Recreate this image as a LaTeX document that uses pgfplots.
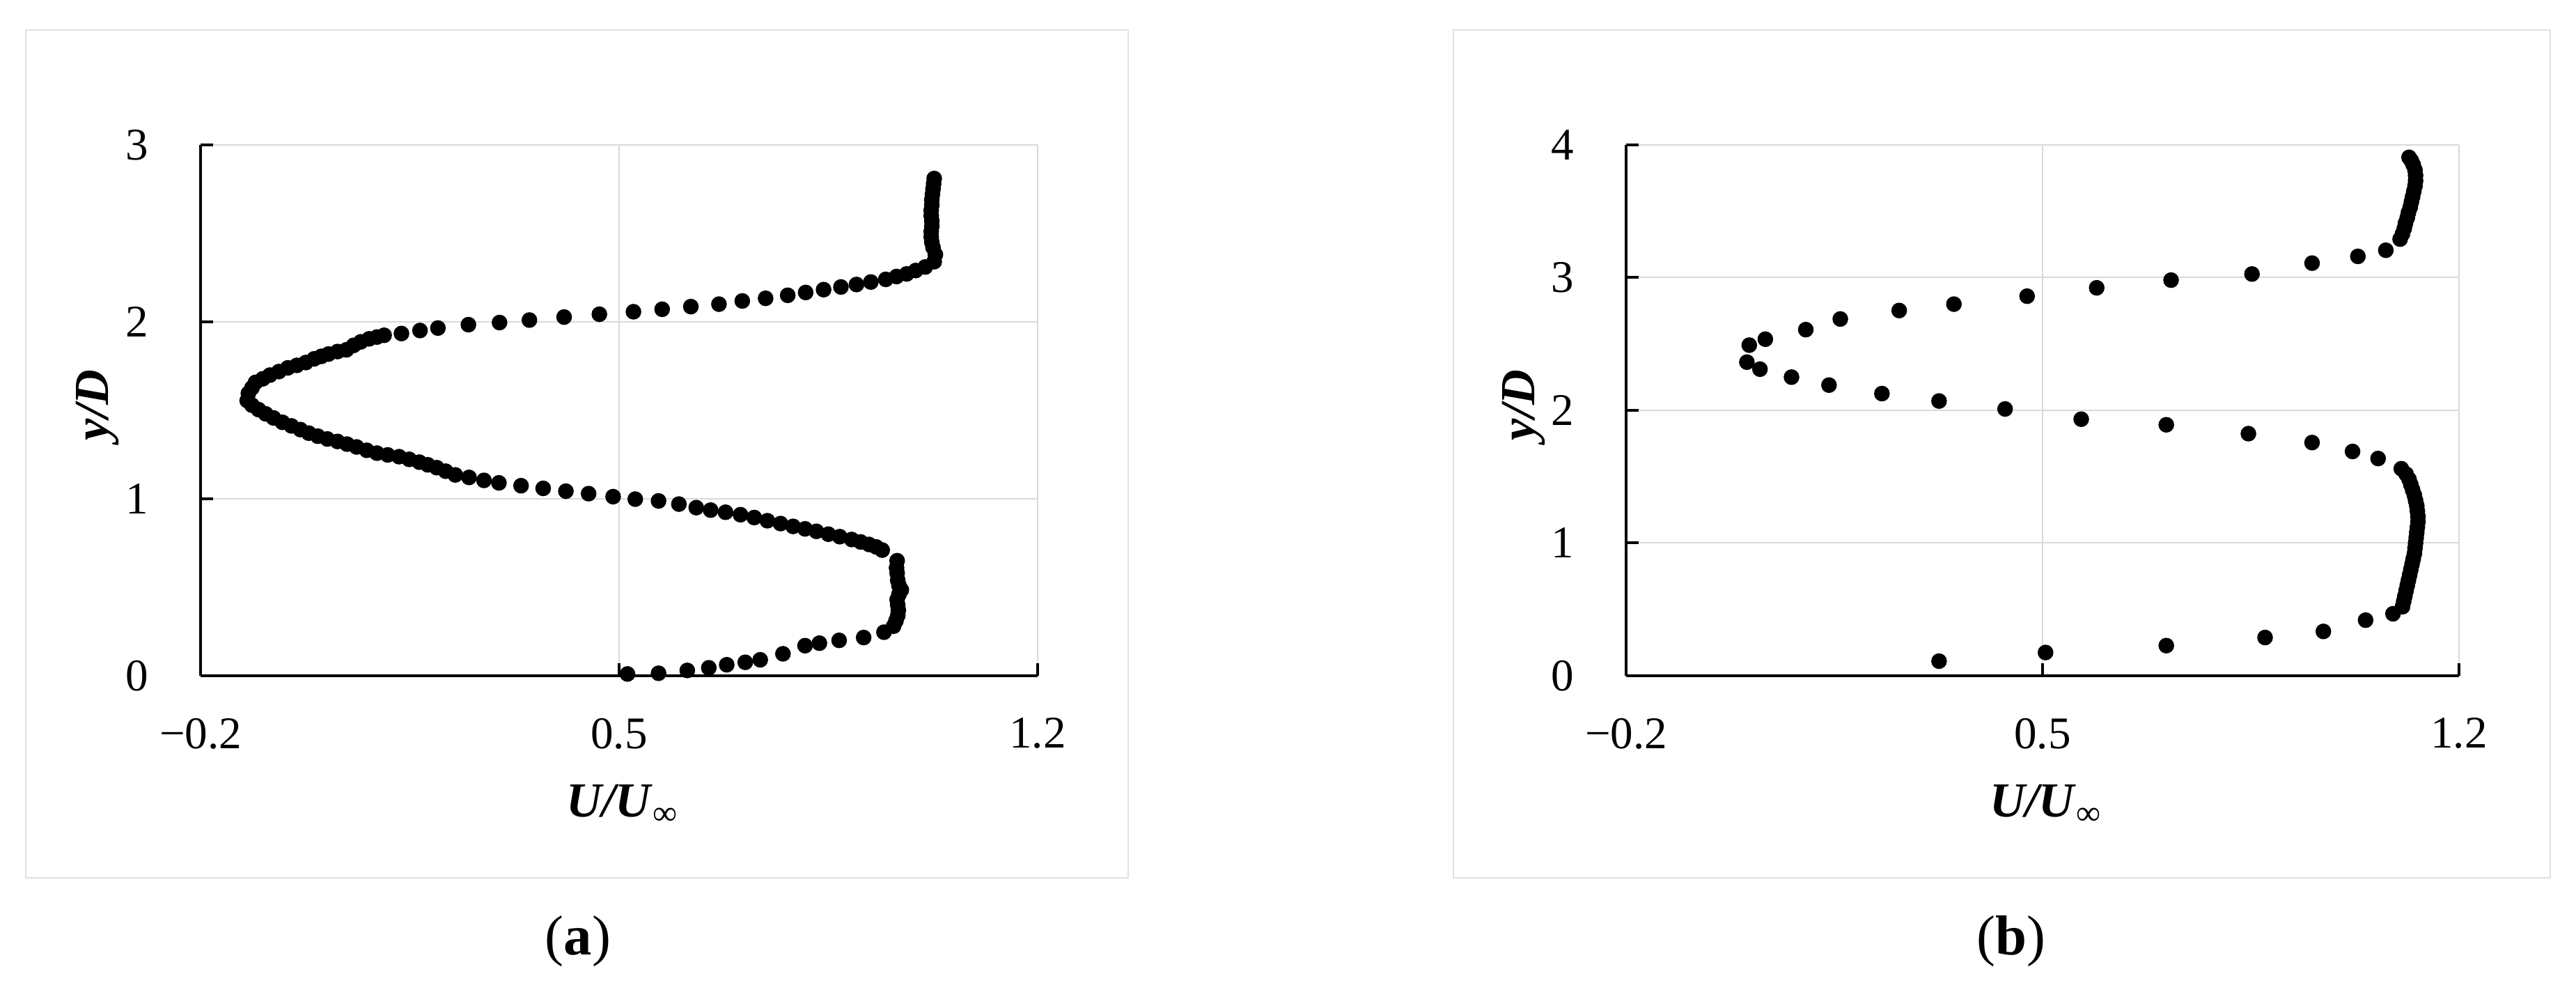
\documentclass[border=0pt]{standalone}
\usepackage{fontspec}
\setmainfont{Liberation Serif}
\usepackage{pgfplots}
\pgfplotsset{compat=1.18}

\definecolor{gridgrey}{HTML}{D9D9D9}
\definecolor{framegrey}{HTML}{E0E0E0}

\pgfplotsset{
  profile/.style={
    scale only axis, height=38.1mm,
    xmin=-0.2, xmax=1.2, ymin=0,
    xtick={-0.2,0.5,1.2}, xticklabels={−0.2,0.5,1.2},
    axis x line=bottom, axis y line=left,
    axis line style={-, line width=0.2mm, black},
    tick align=inside, major tick length=0.9mm,
    tick style={line width=0.2mm, black},
    grid=major, grid style={gridgrey, line width=0.1mm},
    tick label style={font=\fontsize{9.25}{11}\selectfont},
    xticklabel style={yshift=-1.8mm},
    yticklabel style={xshift=-2.5mm},
    xlabel={\textbf{\textit{U/U}}\textsubscript{∞}},
    ylabel={\textbf{\textit{y/D}}},
    xlabel style={at={(axis description cs:0.505,-0.173)}, anchor=north,
      font=\fontsize{10}{12}\selectfont},
    ylabel style={at={(axis description cs:-0.123,0.51)}, anchor=center,
      font=\fontsize{10}{12}\selectfont},
    clip=false,
  },
  dots/.style={only marks, mark=*, mark size=1.4pt, black},
}

\begin{document}
\begin{tikzpicture}
\path[use as bounding box] (0,0) rectangle (184.95mm,70.55mm);

\draw[framegrey, line width=0.12mm] (1.85mm,7.55mm) rectangle (81.0mm,68.4mm);
\draw[framegrey, line width=0.12mm] (104.35mm,7.55mm) rectangle (183.1mm,68.4mm);

% (a)
\begin{axis}[profile, at={(14.4mm,22.05mm)}, anchor=south west,
  width=60.1mm, ymax=3, ytick={0,1,2,3}, yticklabels={0,1,2,3}]
\addplot[dots] coordinates {
(0.514,0.010) (0.566,0.014) (0.614,0.030) (0.650,0.045) (0.680,0.062)
(0.711,0.076) (0.736,0.090) (0.774,0.124) (0.811,0.170) (0.835,0.184)
(0.868,0.200) (0.909,0.216) (0.943,0.246) (0.959,0.280) (0.963,0.310)
(0.966,0.340) (0.967,0.370) (0.966,0.400) (0.965,0.430) (0.968,0.460)
(0.972,0.485) (0.968,0.510) (0.966,0.540) (0.965,0.580) (0.964,0.610)
(0.965,0.650) (0.940,0.710) (0.930,0.728) (0.918,0.742) (0.904,0.756)
(0.889,0.770) (0.869,0.786) (0.850,0.800) (0.830,0.816) (0.811,0.830)
(0.791,0.844) (0.770,0.860) (0.748,0.876) (0.726,0.894) (0.703,0.910)
(0.678,0.924) (0.653,0.936) (0.629,0.950) (0.600,0.970) (0.566,0.988)
(0.527,0.998) (0.490,1.012) (0.449,1.029) (0.411,1.043) (0.373,1.059)
(0.336,1.074) (0.299,1.090) (0.274,1.104) (0.249,1.121) (0.226,1.135)
(0.210,1.156) (0.195,1.176) (0.180,1.192) (0.166,1.207) (0.149,1.223)
(0.132,1.238) (0.113,1.248) (0.095,1.258) (0.078,1.274) (0.061,1.293)
(0.045,1.309) (0.029,1.324) (0.012,1.338) (-0.004,1.354) (-0.019,1.371)
(-0.033,1.391) (-0.048,1.412) (-0.063,1.432) (-0.078,1.457) (-0.091,1.480)
(-0.103,1.504) (-0.114,1.529) (-0.122,1.555) (-0.120,1.596) (-0.114,1.627)
(-0.108,1.658) (-0.096,1.678) (-0.084,1.699) (-0.069,1.719) (-0.054,1.740)
(-0.039,1.754) (-0.024,1.770) (-0.010,1.791) (0.002,1.805) (0.014,1.818)
(0.029,1.832) (0.044,1.842) (0.056,1.867) (0.068,1.887) (0.082,1.904)
(0.095,1.914) (0.107,1.924) (0.136,1.934) (0.167,1.951) (0.197,1.965)
(0.248,1.984) (0.300,1.996) (0.350,2.010) (0.408,2.027) (0.467,2.043)
(0.524,2.057) (0.572,2.071) (0.620,2.086) (0.667,2.100) (0.706,2.118)
(0.745,2.133) (0.782,2.150) (0.812,2.166) (0.842,2.182) (0.871,2.197)
(0.897,2.211) (0.921,2.225) (0.946,2.240) (0.964,2.256) (0.981,2.271)
(0.996,2.290) (1.012,2.310) (1.027,2.340) (1.029,2.380) (1.025,2.420)
(1.023,2.450) (1.022,2.480) (1.022,2.510) (1.023,2.540) (1.023,2.570)
(1.022,2.600) (1.022,2.630) (1.023,2.660) (1.023,2.690) (1.024,2.720)
(1.025,2.750) (1.026,2.780) (1.027,2.810)
};
\end{axis}

% (b)
\begin{axis}[profile, at={(116.75mm,22.05mm)}, anchor=south west,
  width=59.8mm, ymax=4, ytick={0,1,2,3,4}, yticklabels={0,1,2,3,4}]
\addplot[dots] coordinates {
(0.326,0.110) (0.505,0.175) (0.708,0.227) (0.874,0.288) (0.972,0.334)
(1.043,0.419) (1.089,0.467) (1.105,0.520) (1.107,0.560) (1.109,0.600)
(1.111,0.640) (1.113,0.680) (1.115,0.720) (1.117,0.760) (1.119,0.800)
(1.121,0.840) (1.123,0.880) (1.125,0.920) (1.126,0.960) (1.127,1.000)
(1.128,1.040) (1.129,1.080) (1.130,1.120) (1.131,1.160) (1.131,1.200)
(1.130,1.240) (1.129,1.280) (1.127,1.320) (1.125,1.360) (1.122,1.400)
(1.119,1.440) (1.116,1.480) (1.111,1.520) (1.103,1.560) (1.064,1.637)
(1.021,1.690) (0.953,1.757) (0.846,1.824) (0.708,1.891) (0.565,1.933)
(0.437,2.010) (0.326,2.070) (0.230,2.126) (0.141,2.190) (0.078,2.250)
(0.025,2.310) (0.003,2.363) (0.007,2.491) (0.034,2.536) (0.102,2.608)
(0.160,2.688) (0.259,2.752) (0.351,2.800) (0.474,2.860) (0.591,2.923)
(0.716,2.981) (0.852,3.027) (0.953,3.109) (1.030,3.160) (1.077,3.206)
(1.101,3.290) (1.105,3.330) (1.108,3.370) (1.110,3.410) (1.113,3.450)
(1.115,3.490) (1.118,3.530) (1.120,3.570) (1.122,3.610) (1.124,3.650)
(1.126,3.690) (1.127,3.730) (1.127,3.770) (1.126,3.810) (1.123,3.850)
(1.120,3.880) (1.116,3.906)
};
\end{axis}

\node[font=\fontsize{11.5}{14}\selectfont] at (41.5mm,3.0mm) {(\textbf{a})};
\node[font=\fontsize{11.5}{14}\selectfont] at (144.4mm,3.0mm) {(\textbf{b})};
\end{tikzpicture}
\end{document}
